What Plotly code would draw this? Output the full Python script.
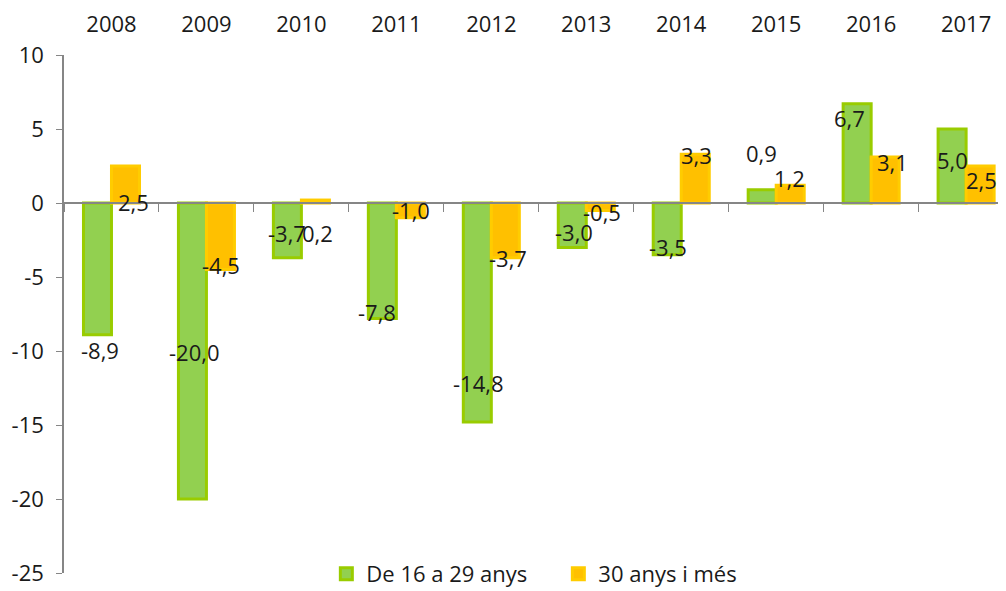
import plotly.graph_objects as go

years = ["2008", "2009", "2010", "2011", "2012", "2013", "2014", "2015", "2016", "2017"]
young = [-8.9, -20.0, -3.7, -7.8, -14.8, -3.0, -3.5, 0.9, 6.7, 5.0]
older = [2.5, -4.5, 0.2, -1.0, -3.7, -0.5, 3.3, 1.2, 3.1, 2.5]
young_text = ["-8,9", "-20,0", "-3,7", "-7,8", "-14,8", "-3,0", "-3,5", "0,9", "6,7", "5,0"]
older_text = ["2,5", "-4,5", "0,2", "-1,0", "-3,7", "-0,5", "3,3", "1,2", "3,1", "2,5"]
y_ticks = [10, 5, 0, -5, -10, -15, -20, -25]
y_tick_text = ["10", "5", "0", "-5", "-10", "-15", "-20", "-25"]

# label placement (layout, not data)
young_lab_y = [-9.93, -10.07, -2.03, -7.36, -12.16, -1.96, -2.97, 3.38, 5.74, 2.91]
older_lab_y = [0.07, -4.19, -2.03, -0.47, -3.72, -0.61, 3.24, 1.69, 2.77, 1.55]
young_lab_dx = [-11.5, -11.5, -14.5, -19, -12.5, -12.5, -13.5, -14.5, -21.5, -13.5]
older_lab_dx = [22.5, 14.5, 16.5, 14.5, 16.5, 15.5, 15.5, 13.5, 21.5, 15.5]

FONT = "Open Sans"
FS = 22
TXT = "#1a1a1a"
AX = "#868686"

fig = go.Figure()
fig.add_trace(go.Bar(x=years, y=young, name="De 16 a 29 anys",
                     marker=dict(color="#92D050", line=dict(color="#99CC00", width=3))))
fig.add_trace(go.Bar(x=years, y=older, name="30 anys i més",
                     marker=dict(color="#FFC000", line=dict(color="#FFCC00", width=3))))
# invisible helper trace so the top category axis is rendered
fig.add_trace(go.Scatter(x=list(range(len(years))), y=young, xaxis="x2", yaxis="y",
                         mode="markers", marker=dict(opacity=0), showlegend=False,
                         hoverinfo="skip"))

ann = []
for i in range(len(years)):
    ann.append(dict(x=i, y=young_lab_y[i], xref="x", yref="y", text=young_text[i],
                    showarrow=False, xshift=young_lab_dx[i],
                    font=dict(family=FONT, size=FS, color=TXT)))
    ann.append(dict(x=i, y=older_lab_y[i], xref="x", yref="y", text=older_text[i],
                    showarrow=False, xshift=older_lab_dx[i],
                    font=dict(family=FONT, size=FS, color=TXT)))

ymin, ymax = -25, 10
W, H = 998, 583
ML, MT = 56, 47
paper_h = H - MT
dom0 = 18 / paper_h
zero_pos = dom0 + (0 - ymin) / (ymax - ymin) * (1 - dom0)
xr = [-0.5, 9.42]

fig.update_layout(
    width=W, height=H,
    margin=dict(l=ML, r=0, t=MT, b=0, autoexpand=False),
    plot_bgcolor="white", paper_bgcolor="white",
    barmode="group", bargap=0.41, bargroupgap=0,
    font=dict(family=FONT, size=FS, color=TXT),
    showlegend=True,
    legend=dict(orientation="h", x=0.2785, xanchor="left", y=-4 / paper_h, yanchor="bottom",
                font=dict(family=FONT, size=FS, color=TXT), entrywidth=187,
                bgcolor="rgba(0,0,0,0)"),
    xaxis=dict(type="category", range=xr, anchor="free", position=zero_pos,
               showline=True, linecolor=AX, linewidth=1.5,
               ticks="outside", tickson="boundaries", ticklen=8, tickcolor=AX,
               showticklabels=False, showgrid=False, zeroline=False, automargin=False),
    xaxis2=dict(overlaying="x", side="top", range=xr, tickmode="array",
                tickvals=list(range(len(years))), ticktext=years, anchor="y",
                showline=False, ticks="", showgrid=False, zeroline=False, automargin=False,
                ticklabelstandoff=18, tickfont=dict(family=FONT, size=FS, color=TXT)),
    yaxis=dict(range=[ymin, ymax], domain=[dom0, 1], tickmode="array",
               tickvals=y_ticks, ticktext=y_tick_text,
               showline=True, linecolor=AX, linewidth=1.5,
               ticks="outside", ticklen=6, tickcolor=AX, automargin=False,
               showgrid=False, zeroline=False, ticklabelstandoff=8,
               tickfont=dict(family=FONT, size=FS, color=TXT)),
    annotations=ann,
)

fig.write_html("out.html")
